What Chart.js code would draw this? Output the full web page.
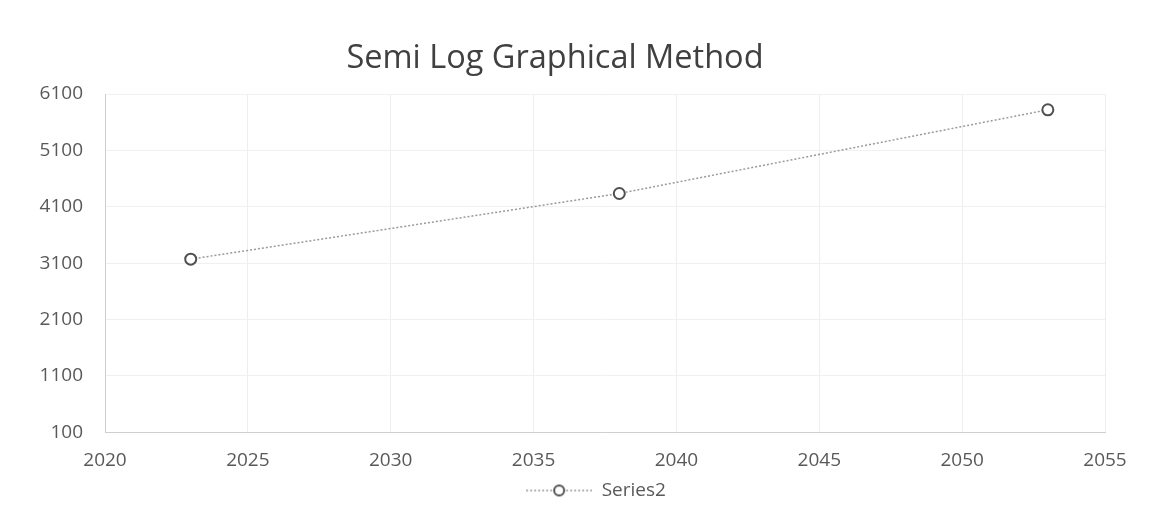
<!DOCTYPE html>
<html>
<head>
<meta charset="utf-8">
<script src="https://cdn.jsdelivr.net/npm/chart.js@4/dist/chart.umd.min.js"></script>
<style>
  html, body { margin: 0; padding: 0; background: #fff; }
  #wrap { width: 1158px; height: 524px; position: relative; }
</style>
</head>
<body>
<div id="wrap"><canvas id="chart"></canvas></div>
<script>
// DATA
const YEARS = [2023, 2038, 2053];
const POPULATION = [3170, 4335, 5820];
const X_TICKS = [2020, 2025, 2030, 2035, 2040, 2045, 2050, 2055];
const Y_TICKS = [100, 1100, 2100, 3100, 4100, 5100, 6100];

const FONT = "'Open Sans', 'Liberation Sans', sans-serif";
const TICK_COLOR = '#595959';
const LINE_COLOR = '#9a9a9a';
const MARKER_COLOR = '#505050';

const points = YEARS.map((yr, i) => ({ x: yr, y: POPULATION[i] }));

// legend symbol: dotted line with a hollow marker in the middle (Excel style)
function legendSymbol() {
    const c = document.createElement('canvas');
    c.width = 66; c.height = 16;
    const g = c.getContext('2d');
    g.strokeStyle = LINE_COLOR;
    g.lineWidth = 1.5;
    g.setLineDash([2, 2]);
    g.beginPath(); g.moveTo(0, 8); g.lineTo(66, 8); g.stroke();
    g.setLineDash([]);
    g.fillStyle = '#fff';
    g.strokeStyle = MARKER_COLOR;
    g.lineWidth = 2;
    g.beginPath(); g.arc(33, 8, 5, 0, Math.PI * 2); g.fill(); g.stroke();
    return c;
}

// Excel puts the legend under the plot area, a bit right of the page centre
const legendNudge = {
    id: 'legendNudge',
    afterLayout(chart) {
        const lg = chart.legend;
        lg.left += 41; lg.right += 41;
        lg.top -= 14; lg.bottom -= 14;
    }
};

new Chart(document.getElementById('chart'), {
    type: 'scatter',
    data: {
        datasets: [{
            label: 'Series2',
            data: points,
            showLine: true,
            borderColor: LINE_COLOR,
            borderWidth: 1.5,
            borderDash: [2, 2],
            pointStyle: 'circle',
            pointRadius: 5.5,
            pointBorderWidth: 2,
            pointBorderColor: MARKER_COLOR,
            pointBackgroundColor: '#ffffff'
        }]
    },
    plugins: [legendNudge],
    options: {
        responsive: true,
        maintainAspectRatio: false,
        animation: false,
        layout: { padding: { left: 5, right: 53, top: 0, bottom: 0 } },
        plugins: {
            title: {
                display: true,
                text: 'Semi Log Graphical Method',
                color: '#404040',
                font: { family: FONT, size: 32.5, weight: 'normal' },
                padding: { top: 39, bottom: 16 }
            },
            legend: {
                position: 'bottom',
                labels: {
                    usePointStyle: true,
                    pointStyleWidth: 66,
                    color: TICK_COLOR,
                    font: { family: FONT, size: 19 },
                    padding: 6,
                    generateLabels: chart => [{
                        text: 'Series2',
                        pointStyle: legendSymbol(),
                        fontColor: TICK_COLOR,
                        lineWidth: 0,
                        datasetIndex: 0
                    }]
                }
            },
            tooltip: { enabled: false }
        },
        scales: {
            x: {
                type: 'linear',
                min: X_TICKS[0],
                max: X_TICKS[X_TICKS.length - 1],
                afterBuildTicks: axis => { axis.ticks = X_TICKS.map(v => ({ value: v })); },
                ticks: {
                    color: TICK_COLOR,
                    font: { family: FONT, size: 19 },
                    padding: 17,
                    maxRotation: 0,
                    callback: v => String(v)
                },
                grid: { color: '#eeeeee', drawTicks: false },
                border: { color: '#cfcfcf' }
            },
            y: {
                min: Y_TICKS[0],
                max: Y_TICKS[Y_TICKS.length - 1],
                afterBuildTicks: axis => { axis.ticks = Y_TICKS.map(v => ({ value: v })); },
                afterFit: axis => { axis.width = 100; },
                ticks: {
                    color: TICK_COLOR,
                    font: { family: FONT, size: 19 },
                    padding: 22,
                    callback: v => String(v)
                },
                grid: { color: '#f0f0f0', drawTicks: false },
                border: { color: '#cfcfcf' }
            }
        }
    }
});
</script>
</body>
</html>
